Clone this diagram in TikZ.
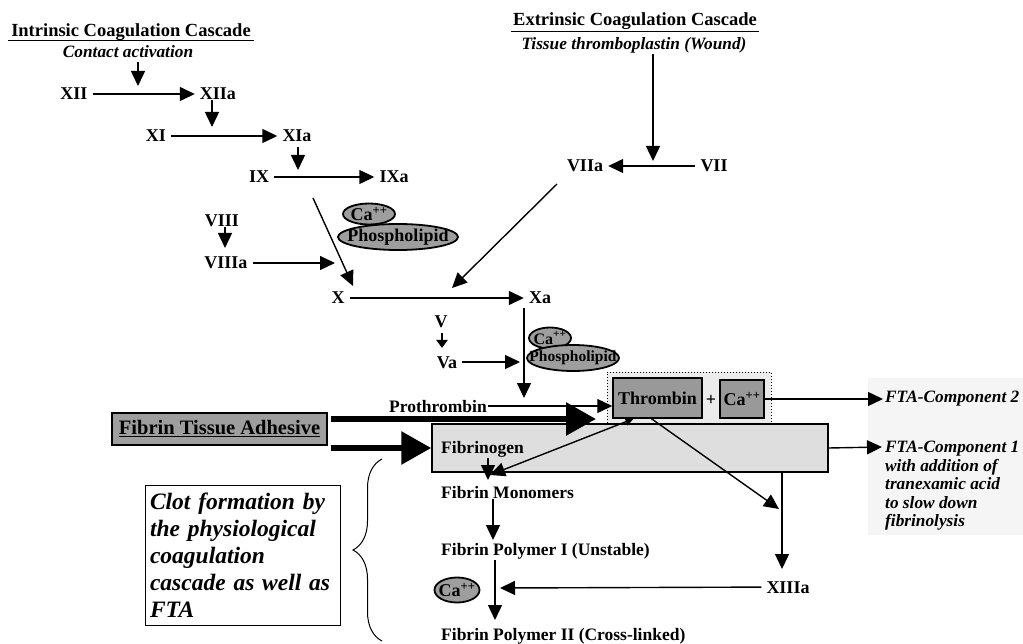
\documentclass[tikz,border=0pt]{standalone}
\usepackage{fontspec}
\setmainfont{Liberation Serif}
\usetikzlibrary{arrows.meta,shapes.geometric,decorations.pathreplacing}
\begin{document}
\begin{tikzpicture}[x=1pt,y=-1pt,
  ttl/.style={font=\fontsize{18.5}{20}\selectfont\bfseries, inner sep=0pt},
  itl/.style={font=\fontsize{17.3}{19}\selectfont\bfseries\itshape, inner sep=0pt},
  fac/.style={font=\fontsize{18}{20}\selectfont\bfseries, text height=12pt, text depth=0pt, inner xsep=5pt, inner ysep=0pt},
  txt/.style={font=\fontsize{17.5}{20}\selectfont\bfseries, inner sep=1pt},
  oval/.style={ellipse, draw, line width=1.8pt, fill=black!38, inner sep=0pt, font=\fontsize{18}{19}\selectfont\bfseries},
  gbox/.style={draw, line width=1.5pt, fill=black!40, inner sep=0pt, font=\fontsize{18}{20}\selectfont\bfseries},
  arr/.style={line width=1.4pt, -{Triangle[length=15pt,width=14pt]}},
  dblarr/.style={line width=1.4pt, {Triangle[length=8pt,width=8pt]}-{Triangle[length=15pt,width=14pt]}},
  smallarr/.style={line width=2.4pt, -{Triangle[length=8pt,width=11pt]}},
  bigarr/.style={line width=6pt, -{Triangle[length=30pt,width=32pt]}}
]
\useasboundingbox (0,0) rectangle (1023,644);
\fill[white] (0,0) rectangle (1023,644);
\fill[black!4] (868,378) rectangle (1023,535);

% titles
\node[ttl, anchor=base] (tin) at (131,37) {Intrinsic Coagulation Cascade};
\draw[line width=1.2pt] ([xshift=-3pt,yshift=1pt]tin.south west) -- ([xshift=3pt,yshift=1pt]tin.south east);
\node[itl, anchor=base] (con) at (128,58) {Contact activation};
\node[ttl, anchor=base] (tex) at (635,26) {Extrinsic Coagulation Cascade};
\draw[line width=1.2pt] ([xshift=-2pt,yshift=-1pt]tex.south west) -- ([xshift=2pt,yshift=-1pt]tex.south east);
\node[itl, anchor=base] (tis) at (634,50) {Tissue thromboplastin (Wound)};

% factors
\node[fac] (XII) at (74,94) {XII};
\node[fac] (XIIa) at (218,94) {XIIa};
\node[fac] (XI) at (156,136) {XI};
\node[fac] (XIa) at (297,136) {XIa};
\node[fac] (IX) at (259,177) {IX};
\node[fac] (IXa) at (394,177) {IXa};
\node[fac] (VIII) at (222,221) {VIII};
\node[fac] (VIIIa) at (226,263) {VIIIa};
\node[fac] (X) at (338,298) {X};
\node[fac] (Xa) at (540,298) {Xa};
\node[fac] (V) at (441,321) {V};
\node[fac] (Va) at (447,362) {Va};
\node[fac] (VII) at (714,166) {VII};
\node[fac] (VIIa) at (585,166) {VIIa};
\node[fac] (XIIIa) at (788,587) {XIIIa};

% ellipses
\node[oval, minimum width=52pt, minimum height=21pt] (ca1) at (369,214) {\makebox[0pt]{Ca\textsuperscript{++}}};
\node[oval, minimum width=120pt, minimum height=26pt] (ph1) at (398,237) {\makebox[0pt]{Phospholipid}};
\node[oval, minimum width=42pt, minimum height=21pt, font=\fontsize{16}{17}\selectfont\bfseries] (ca2) at (550,338) {\makebox[0pt]{Ca\textsuperscript{++}}};
\node[oval, minimum width=92pt, minimum height=26pt, font=\fontsize{15.5}{16}\selectfont\bfseries] (ph2) at (573,358) {\makebox[0pt]{Phospholipid}};
\node[oval, minimum width=45pt, minimum height=25pt] (ca3) at (457,590) {\makebox[0pt]{Ca\textsuperscript{++}}};

% boxes
\node[draw, dotted, line width=1pt, fill=black!8, minimum width=164pt, minimum height=51pt, inner sep=0pt] (grp) at (689,397.5) {};
\node[gbox, minimum width=89pt, minimum height=40pt] (thr) at (657.5,398) {Thrombin};
\node[font=\fontsize{18}{20}\selectfont\bfseries, inner sep=0pt] (plus) at (711,400) {+};
\node[gbox, minimum width=44pt, minimum height=38pt] (cab) at (742,399) {Ca\textsuperscript{++}};
\node[draw, line width=1.5pt, fill=black!13, minimum width=396pt, minimum height=48pt, inner sep=0pt] (fgb) at (630,448) {};
\node[draw, line width=1.2pt, fill=black!38, minimum width=215pt, minimum height=32pt, inner sep=0pt, font=\fontsize{20.5}{22}\selectfont\bfseries] (fta) at (219.5,429) {\underline{Fibrin Tissue Adhesive}};

% texts
\node[txt, anchor=base west] (fgn) at (440,453) {Fibrinogen};
\node[txt, anchor=base east] (pro) at (488,412) {Prothrombin};
\node[txt, anchor=base west] (fm) at (440,498) {Fibrin Monomers};
\node[txt, anchor=base west] (fp1) at (440,555) {Fibrin Polymer I (Unstable)};
\node[txt, anchor=base west] (fp2) at (440,640) {Fibrin Polymer II (Cross-linked)};
\node[itl, anchor=base west, inner xsep=2pt] (fta2) at (883,402) {FTA-Component 2};
\node[itl, anchor=north west, align=left, font=\fontsize{17.3}{18.5}\selectfont\bfseries\itshape] (fta1) at (885,441) {FTA-Component 1\\with addition of\\tranexamic acid\\to slow down\\fibrinolysis};
\node[draw, line width=1pt, text width=185pt, inner xsep=5pt, inner ysep=0pt, minimum height=140pt, align=left, font=\fontsize{23.5}{27}\selectfont\bfseries\itshape] (clot) at (242.5,555) {Clot formation by\\the physiological\\coagulation\\cascade as well as\\FTA};
\draw[line width=1pt, decorate, decoration={brace, amplitude=29pt}] (382,641) -- (382,459);

% connectors
\coordinate (c1) at (138,86);
\draw[arr, shorten <=4pt] (c1 |- con.south) -- (c1);
\draw[arr] (XII) -- (XIIa);
\coordinate (c2) at (212,127);
\draw[arr] (c2 |- XIIa.south) -- (c2);
\draw[arr] (XI) -- (XIa);
\coordinate (c3) at (298,170);
\draw[arr, shorten <=5pt] (c3 |- XIa.south) -- (c3);
\draw[arr] (IX) -- (IXa);
\coordinate (c4) at (313,198);
\coordinate (c5) at (353,286);
\draw[arr] (c4) -- (c5);
\coordinate (c6) at (225,248);
\draw[arr] (c6 |- VIII.south) -- (c6);
\coordinate (c7) at (335,263);
\draw[arr] (VIIIa) -- (c7);
\draw[arr] (X) -- (Xa);
\coordinate (c8) at (653,161);
\draw[arr] (c8 |- tis.south) -- (c8);
\draw[arr] (VII) -- (VIIa);
\coordinate (c9) at (557,184);
\coordinate (c10) at (452,288);
\draw[arr] (c9) -- (c10);
\coordinate (c11) at (442,348);
\draw[smallarr, shorten <=6pt] (c11 |- V.south) -- (c11);
\coordinate (c12) at (520,362);
\draw[arr] (Va) -- (c12);
\coordinate (c13) at (524,398);
\draw[arr, shorten <=4pt] (c13 |- Xa.south) -- (c13);
\draw[arr] (pro) -- (thr.west |- pro);
\coordinate (ft1) at (596,419);
\draw[bigarr, shorten <=3pt] (ft1 -| fta.east) -- (ft1);
\draw[bigarr, shorten <=3pt] (fgb.west -| fta.east) -- (fgb.west);
\coordinate (t1) at (490,475);
\draw[dblarr] ([xshift=-24pt]thr.south) -- (t1);
\coordinate (t2) at (779,509);
\draw[arr] ([xshift=-6pt]thr.south) -- (t2);
\coordinate (c14) at (488,480);
\draw[arr] (c14 |- fgn.south) -- (c14);
\coordinate (c15) at (493,540);
\draw[arr] (c15 |- fm.south) -- (c15);
\coordinate (c16) at (495,620);
\draw[arr] (c16 |- fp1.south) -- (c16);
\coordinate (c17) at (782,569);
\draw[arr] (c17 |- fgb.south) -- (c17);
\coordinate (c18) at (500,588);
\draw[arr] (XIIIa) -- (c18);
\draw[arr] (cab) -- (cab -| fta2.west);
\coordinate (c19) at (882,447);
\draw[arr] (fgb.east) -- (c19);
\end{tikzpicture}
\end{document}
